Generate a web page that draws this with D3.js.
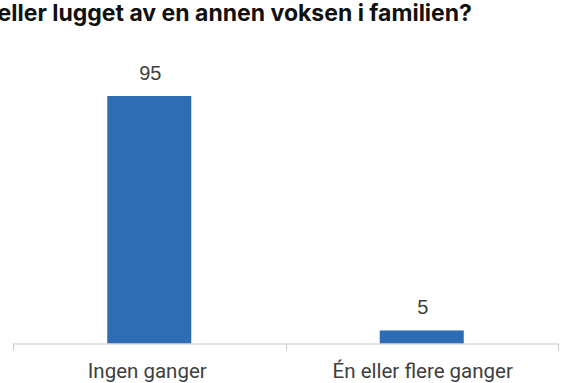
<!DOCTYPE html>
<html>
<head>
<meta charset="utf-8">
<script src="https://cdn.jsdelivr.net/npm/d3@7"></script>
<style>
  html, body { margin: 0; padding: 0; background: #fff; }
  svg { display: block; }
</style>
</head>
<body>
<svg id="chart" width="567" height="383"></svg>
<script>
const categories = ["Ingen ganger", "Én eller flere ganger"];
const values = [95, 5];
const titleText = "eller lugget av en annen voksen i familien?";

const W = 567, H = 383;
const svg = d3.select("#chart");

const plot = { left: 13, right: 558, top: 96, bottom: 343.5 };

const x = d3.scaleBand()
  .domain(categories)
  .range([plot.left, plot.right])
  .paddingInner(0.6917)
  .paddingOuter(0.6917 / 2);

const y = d3.scaleLinear()
  .domain([0, 95])
  .range([plot.bottom, plot.top]);

// Title (runs off the left edge)
svg.append("text")
  .attr("x", 472)
  .attr("y", 21)
  .attr("text-anchor", "end")
  .attr("font-family", "Inter, 'Noto Sans', sans-serif")
  .attr("font-weight", 700)
  .attr("font-size", 23)
  .attr("fill", "#111")
  .text(titleText);

// Bars
svg.selectAll("rect.bar")
  .data(values)
  .join("rect")
  .attr("class", "bar")
  .attr("x", (d, i) => x(categories[i]))
  .attr("width", x.bandwidth())
  .attr("y", d => y(d))
  .attr("height", d => plot.bottom - y(d))
  .attr("fill", "#2E6DB4");

// Value labels
svg.selectAll("text.val")
  .data(values)
  .join("text")
  .attr("class", "val")
  .attr("x", (d, i) => x(categories[i]) + x.bandwidth() / 2 + 1)
  .attr("y", d => y(d) - 16)
  .attr("text-anchor", "middle")
  .attr("font-family", "'Liberation Sans', Arial, sans-serif")
  .attr("font-size", 20)
  .attr("fill", "#404040")
  .text(d => d);

// Category axis: baseline with tick marks at category boundaries
const axis = svg.append("g").attr("stroke", "#c8c8c8").attr("stroke-width", 1);
axis.append("line")
  .attr("x1", plot.left).attr("x2", plot.right)
  .attr("y1", plot.bottom + 0.5).attr("y2", plot.bottom + 0.5);
const step = (plot.right - plot.left) / categories.length;
d3.range(categories.length + 1).forEach(i => {
  const tx = Math.round(plot.left + i * step) + 0.5;
  axis.append("line")
    .attr("x1", tx).attr("x2", tx)
    .attr("y1", plot.bottom).attr("y2", plot.bottom + 7);
});

svg.selectAll("text.cat")
  .data(categories)
  .join("text")
  .attr("class", "cat")
  .attr("x", (d, i) => x(d) + x.bandwidth() / 2 + (i === 0 ? -2 : 1))
  .attr("y", 378)
  .attr("text-anchor", "middle")
  .attr("font-family", "Roboto, 'Noto Sans', sans-serif")
  .attr("font-size", 20.5)
  .attr("fill", "#404040")
  .text(d => d);
</script>
</body>
</html>
